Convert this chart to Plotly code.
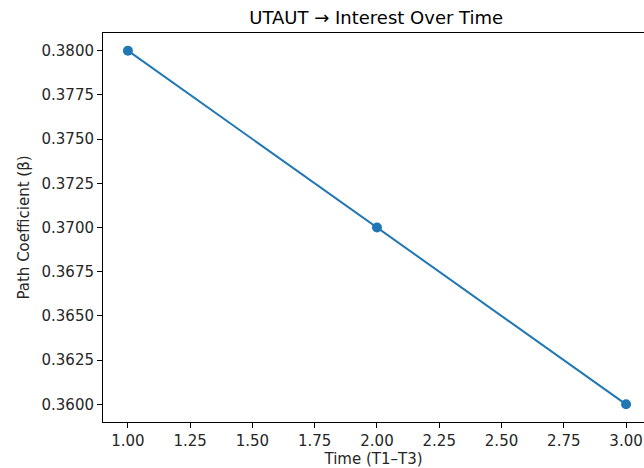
import plotly.graph_objects as go

time_points = [1, 2, 3]
path_coef = [0.38, 0.37, 0.36]
x_tick_vals = [1.0, 1.25, 1.5, 1.75, 2.0, 2.25, 2.5, 2.75, 3.0]
y_tick_vals = [0.36, 0.3625, 0.365, 0.3675, 0.37, 0.3725, 0.375, 0.3775, 0.38]

fig = go.Figure()
fig.add_trace(go.Scatter(
    x=time_points, y=path_coef, mode="lines+markers",
    line=dict(color="#1f77b4", width=2),
    marker=dict(color="#1f77b4", size=10),
    showlegend=False,
))

font = dict(family="DejaVu Sans", size=15, color="#262626")
fig.update_layout(
    width=644, height=468,
    margin=dict(l=103, r=0, t=33, b=46),
    paper_bgcolor="white", plot_bgcolor="white",
    font=font,
    title=dict(text="UTAUT → Interest Over Time", x=0.505, xref="paper", xanchor="center",
               y=1 - 18 / 468, yanchor="middle", font=dict(family="DejaVu Sans", size=18, color="black")),
)
fig.update_xaxes(
    range=[0.9, 3.072], tickvals=x_tick_vals, ticktext=[f"{v:.2f}" for v in x_tick_vals],
    showgrid=False, zeroline=False, showline=True, linecolor="black", linewidth=1, mirror=True,
    ticks="outside", ticklen=5, tickcolor="black", tickwidth=1,
    title=dict(text="Time (T1–T3)", font=font, standoff=4),
    automargin=False,
)
fig.update_yaxes(
    range=[0.359, 0.381], tickvals=y_tick_vals, ticktext=[f"{v:.4f}" for v in y_tick_vals],
    showgrid=False, zeroline=False, showline=True, linecolor="black", linewidth=1, mirror=False,
    ticks="outside", ticklen=5, tickcolor="black", tickwidth=1,
    title=dict(text="Path Coefficient (β)", font=font, standoff=8),
    automargin=False,
)

fig.write_html("out.html", config={"displayModeBar": False},
               post_script="document.body.style.margin='0';")
